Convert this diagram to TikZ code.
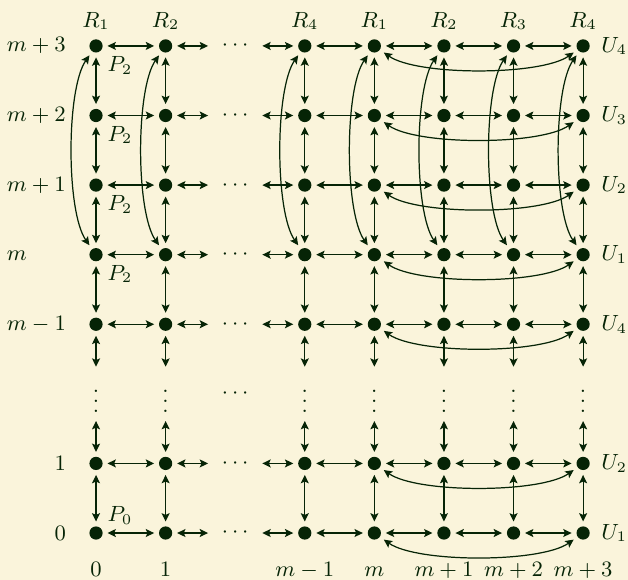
\documentclass[tikz,border=0pt]{standalone}
\usetikzlibrary{arrows.meta}

\definecolor{paper}{RGB}{250,244,219}
\definecolor{ink}{RGB}{6,36,6}

\begin{document}
\begin{tikzpicture}[
    x=1cm,
    y=1cm,
    every node/.style={font=\small, text=ink},
    vertex/.style={circle, fill=ink, inner sep=0pt, minimum size=1.9mm, outer sep=2pt},
    link/.style={draw=ink, line width=0.5pt, {Stealth[length=1.2mm,width=1.15mm,inset=0.25mm]}-{Stealth[length=1.2mm,width=1.15mm,inset=0.25mm]}},
    wrap/.style={link, looseness=0.55}
]

    \fill[paper] (-1.38,-0.675) rectangle (7.645,7.66);
    \useasboundingbox (-1.38,-0.675) rectangle (7.645,7.66);

    % lattice points
    \foreach \i in {0,1,3,4,5,6,7}
        \foreach \j in {0,1,3,4,5,6,7}
            \node[vertex] (v\i\j) at (\i,\j) {};

    % rows
    \foreach \j in {0,1,3,4,5,6,7} {
        \foreach \a/\b in {0/1,3/4,4/5,5/6,6/7}
            \draw[link] (v\a\j) -- (v\b\j);
        \coordinate (hl\j) at (1.61,\j);
        \coordinate (hr\j) at (2.39,\j);
        \draw[link] (v1\j) -- (hl\j);
        \draw[link] (hr\j) -- (v3\j);
        \node[inner sep=0pt] (hd\j) at (2,\j) {$\cdots$};
        \draw[wrap] (v4\j) to[bend right=35] (v7\j);
    }

    % columns
    \foreach \i in {0,1,3,4,5,6,7} {
        \foreach \a/\b in {0/1,3/4,4/5,5/6,6/7}
            \draw[link] (v\i\a) -- (v\i\b);
        \coordinate (vb\i) at (\i,1.61);
        \coordinate (vt\i) at (\i,2.39);
        \draw[link] (v\i1) -- (vb\i);
        \draw[link] (vt\i) -- (v\i3);
        \node[inner sep=0pt] (vd\i) at (\i,2) {$\vdots$};
        \draw[wrap] (v\i4) to[bend left=35] (v\i7);
    }
    \node[inner sep=0pt] (md) at (2,2) {$\cdots$};

    % labels
    \foreach \i/\k in {0/1,1/2,3/4,4/1,5/2,6/3,7/4}
        \node[anchor=base] (r\i) at (\i,7.27) {$R_{\k}$};
    \foreach \j/\k in {7/4,6/3,5/2,4/1,3/4,1/2,0/1}
        \node[anchor=west] (u\j) at (7.14,\j) {$U_{\k}$};
    \foreach \j/\t in {7/m+3,6/m+2,5/m+1,4/m\phantom{{}-1},3/m-1,1/1,0/0}
        \node[anchor=east] (y\j) at (-0.31,\j) {$\t$};
    \foreach \i/\t in {0/0,1/1,3/m-1,4/m,5/m+1,6/m+2,7/m+3}
        \node[anchor=base] (x\i) at (\i,-0.63) {$\t$};
    \foreach \j in {4,5,6,7}
        \node[anchor=base west, inner sep=0pt] (p\j) at (0.16,{\j-0.37}) {$P_2$};
    \node[anchor=base west, inner sep=0pt] (p0) at (0.16,0.16) {$P_0$};

\end{tikzpicture}
\end{document}
